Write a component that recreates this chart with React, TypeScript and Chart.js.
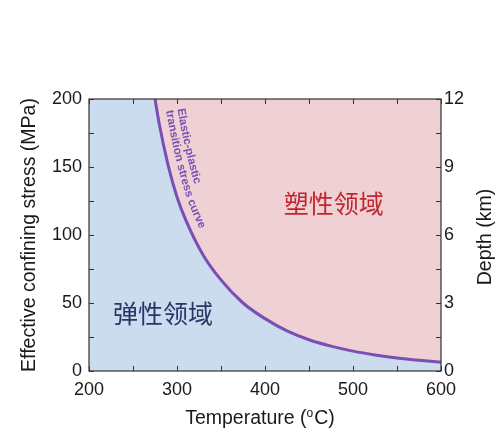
import React, { useEffect, useRef } from 'react';
import { Chart, registerables } from 'chart.js';

Chart.register(...registerables);

// ---- data ----
const temperatureC = [275, 280, 290, 300, 310, 330, 350, 375, 400, 425, 450, 475, 500, 525, 550, 575, 600];
const stressMPa = [200, 181, 151, 128, 111, 85, 67, 50, 38.5, 29.5, 23, 18.3, 14.6, 11.8, 9.6, 7.9, 6.5];

const xTicks = [200, 300, 400, 500, 600];
const xMinorTicks = [250, 350, 450, 550];
const stressTicks = [0, 50, 100, 150, 200];
const stressMinorTicks = [25, 75, 125, 175];
const depthTicks = [0, 3, 6, 9, 12];
const depthMinorTicks = [1.5, 4.5, 7.5, 10.5];

const regionLabels = ['弹性领域', '塑性领域'];
const regionLabelTemp = [284, 478];
const regionLabelStress = [42.6, 123.5];
const regionLabelColors = ['#2b3566', '#c0272d'];

const curveLabelLines = ['Elastic-plastic', 'transition stress curve'];

const xTitle = ['Temperature (', 'o', 'C)'];
const yTitle = 'Effective confining stress (MPa)';
const y2Title = 'Depth (km)';

const FONT = '"Liberation Sans", Arial, Helvetica, sans-serif';
const BLUE = '#cadcee';
const PINK = '#efd0d4';
const PURPLE = '#7a4fb5';
const AXIS = '#333333';

function sampleCurve(chart: any) {
  const meta = chart.getDatasetMeta(0);
  const pts = meta.data as any[];
  const out: { x: number; y: number }[] = [];
  for (let i = 0; i < pts.length - 1; i++) {
    const p0 = pts[i];
    const p3 = pts[i + 1];
    const c1x = p0.cp2x ?? p0.x, c1y = p0.cp2y ?? p0.y;
    const c2x = p3.cp1x ?? p3.x, c2y = p3.cp1y ?? p3.y;
    const N = 30;
    for (let k = 0; k < N; k++) {
      const t = k / N;
      const mt = 1 - t;
      const x = mt * mt * mt * p0.x + 3 * mt * mt * t * c1x + 3 * mt * t * t * c2x + t * t * t * p3.x;
      const y = mt * mt * mt * p0.y + 3 * mt * mt * t * c1y + 3 * mt * t * t * c2y + t * t * t * p3.y;
      out.push({ x, y });
    }
  }
  const last = pts[pts.length - 1];
  out.push({ x: last.x, y: last.y });
  return out;
}

function drawTextOnCurve(ctx: CanvasRenderingContext2D, base: { x: number; y: number }[], text: string, startBaseS: number, offset: number) {
  const off: { x: number; y: number }[] = [];
  const baseCum: number[] = [0];
  for (let i = 0; i < base.length; i++) {
    const a = base[Math.max(0, i - 1)];
    const b = base[Math.min(base.length - 1, i + 1)];
    let tx = b.x - a.x, ty = b.y - a.y;
    const l = Math.hypot(tx, ty) || 1;
    tx /= l; ty /= l;
    off.push({ x: base[i].x + ty * offset, y: base[i].y - tx * offset });
    if (i > 0) baseCum.push(baseCum[i - 1] + Math.hypot(base[i].x - base[i - 1].x, base[i].y - base[i - 1].y));
  }
  const offCum: number[] = [0];
  for (let i = 1; i < off.length; i++) offCum.push(offCum[i - 1] + Math.hypot(off[i].x - off[i - 1].x, off[i].y - off[i - 1].y));
  let k0 = 0;
  while (k0 < baseCum.length - 1 && baseCum[k0] < startBaseS) k0++;
  let s = offCum[k0];
  const at = (sv: number) => {
    let j = 1;
    while (j < offCum.length - 1 && offCum[j] < sv) j++;
    const s0 = offCum[j - 1], s1 = offCum[j];
    const f = s1 > s0 ? (sv - s0) / (s1 - s0) : 0;
    const p = off[j - 1], q = off[j];
    return { x: p.x + (q.x - p.x) * f, y: p.y + (q.y - p.y) * f, a: Math.atan2(q.y - p.y, q.x - p.x) };
  };
  for (const ch of text) {
    const w = ctx.measureText(ch).width;
    const pos = at(s + w / 2);
    ctx.save();
    ctx.translate(pos.x, pos.y);
    ctx.rotate(pos.a);
    ctx.fillText(ch, 0, 0);
    ctx.restore();
    s += w;
  }
}

const framePlugin = {
  id: 'framePlugin',
  beforeDatasetsDraw(chart: any) {
    const { ctx, chartArea: a } = chart;
    ctx.save();
    ctx.fillStyle = BLUE;
    ctx.fillRect(a.left, a.top, a.right - a.left, a.bottom - a.top);
    ctx.restore();
  },
  afterDatasetsDraw(chart: any) {
    const { ctx, scales } = chart;
    const base = sampleCurve(chart);
    ctx.save();
    ctx.fillStyle = PURPLE;
    ctx.font = `bold 11.5px ${FONT}`;
    ctx.textAlign = 'center';
    ctx.textBaseline = 'alphabetic';
    drawTextOnCurve(ctx, base, curveLabelLines[0], 13, 20.5);
    drawTextOnCurve(ctx, base, curveLabelLines[1], 13, 9);
    ctx.restore();
    ctx.save();
    ctx.font = `25px "Noto Sans CJK SC", sans-serif`;
    ctx.textAlign = 'center';
    ctx.textBaseline = 'middle';
    regionLabels.forEach((t, i) => {
      ctx.fillStyle = regionLabelColors[i];
      ctx.fillText(t, scales.x.getPixelForValue(regionLabelTemp[i]), scales.y.getPixelForValue(regionLabelStress[i]));
    });
    ctx.restore();
  },
  afterDraw(chart: any) {
    const { ctx, chartArea: a, scales } = chart;
    ctx.save();
    ctx.strokeStyle = AXIS;
    ctx.lineWidth = 1.2;
    ctx.strokeRect(a.left, a.top, a.right - a.left, a.bottom - a.top);
    ctx.lineWidth = 1;
    const L = 5;
    ctx.beginPath();
    [...xTicks, ...xMinorTicks].forEach((v) => {
      const x = Math.round(scales.x.getPixelForValue(v)) + 0.5;
      ctx.moveTo(x, a.bottom); ctx.lineTo(x, a.bottom - L);
      ctx.moveTo(x, a.top); ctx.lineTo(x, a.top + L);
    });
    [...stressTicks, ...stressMinorTicks].forEach((v) => {
      const y = Math.round(scales.y.getPixelForValue(v)) + 0.5;
      ctx.moveTo(a.left, y); ctx.lineTo(a.left + L, y);
    });
    [...depthTicks, ...depthMinorTicks].forEach((v) => {
      const y = Math.round(scales.y2.getPixelForValue(v)) + 0.5;
      ctx.moveTo(a.right, y); ctx.lineTo(a.right - L, y);
    });
    ctx.stroke();

    ctx.fillStyle = '#1a1a1a';
    ctx.textBaseline = 'middle';
    ctx.textAlign = 'center';
    const big = `19.5px ${FONT}`;
    ctx.font = big;
    const cy = (a.top + a.bottom) / 2;
    ctx.save();
    ctx.translate(30, cy);
    ctx.rotate(-Math.PI / 2);
    ctx.fillText(yTitle, 0, 0);
    ctx.restore();
    ctx.save();
    ctx.translate(486, cy + 2);
    ctx.rotate(-Math.PI / 2);
    ctx.fillText(y2Title, 0, 0);
    ctx.restore();

    ctx.textAlign = 'left';
    ctx.textBaseline = 'alphabetic';
    const small = `12px ${FONT}`;
    ctx.font = big;
    const w1 = ctx.measureText(xTitle[0]).width;
    const w3 = ctx.measureText(xTitle[2]).width;
    ctx.font = small;
    const w2 = ctx.measureText(xTitle[1]).width + 1;
    const total = w1 + w2 + w3;
    let x0 = 260 - total / 2;
    const by = 424;
    ctx.font = big;
    ctx.fillText(xTitle[0], x0, by);
    x0 += w1;
    ctx.font = small;
    ctx.fillText(xTitle[1], x0, by - 7);
    x0 += w2;
    ctx.font = big;
    ctx.fillText(xTitle[2], x0, by);
    ctx.restore();
  },
};

export default function App() {
  const ref = useRef<HTMLCanvasElement | null>(null);
  useEffect(() => {
    if (!ref.current) return;
    const tickFont = { family: FONT, size: 18 };
    const chart = new Chart(ref.current, {
      type: 'line',
      data: {
        datasets: [
          {
            data: temperatureC.map((t, i) => ({ x: t, y: stressMPa[i] })),
            borderColor: PURPLE,
            borderWidth: 3,
            pointRadius: 0,
            fill: 'end',
            backgroundColor: PINK,
            cubicInterpolationMode: 'monotone',
            xAxisID: 'x',
            yAxisID: 'y',
          },
        ],
      },
      options: {
        animation: false,
        responsive: false,
        devicePixelRatio: 1,
        layout: { padding: { top: 99, left: 0, right: 0, bottom: 0 } },
        plugins: { legend: { display: false }, tooltip: { enabled: false } },
        scales: {
          x: {
            type: 'linear',
            position: 'bottom',
            min: 200,
            max: 600,
            afterBuildTicks: (s: any) => { s.ticks = xTicks.map((v) => ({ value: v })); },
            afterFit: (s: any) => { s.height = 72; },
            grid: { display: false, drawTicks: false },
            border: { display: false },
            ticks: { font: tickFont, color: '#1a1a1a', padding: 8, maxRotation: 0, autoSkip: false },
          },
          y: {
            type: 'linear',
            position: 'left',
            min: 0,
            max: 200,
            afterBuildTicks: (s: any) => { s.ticks = stressTicks.map((v) => ({ value: v })); },
            afterFit: (s: any) => { s.width = 89; },
            grid: { display: false, drawTicks: false },
            border: { display: false },
            ticks: { font: tickFont, color: '#1a1a1a', padding: 7 },
          },
          y2: {
            type: 'linear',
            position: 'right',
            min: 0,
            max: 12,
            afterBuildTicks: (s: any) => { s.ticks = depthTicks.map((v) => ({ value: v })); },
            afterFit: (s: any) => { s.width = 56; },
            grid: { display: false, drawTicks: false },
            border: { display: false },
            ticks: { font: tickFont, color: '#1a1a1a', padding: 3 },
          },
        },
      },
      plugins: [framePlugin],
    } as any);
    return () => chart.destroy();
  }, []);
  return (
    <div style={{ position: 'fixed', left: 0, top: 0, width: 497, height: 443, background: '#fff' }}>
      <canvas ref={ref} width={497} height={443} style={{ width: 497, height: 443, display: 'block' }} />
    </div>
  );
}
